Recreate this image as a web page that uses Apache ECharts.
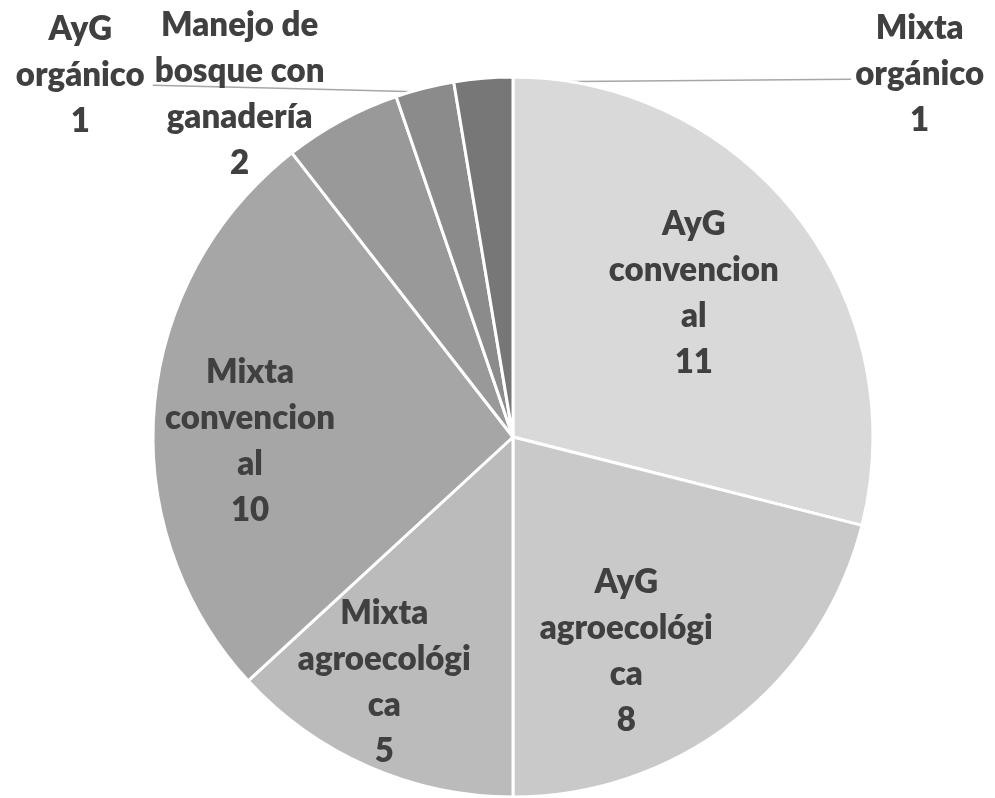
<!DOCTYPE html>
<html>
<head>
<meta charset="utf-8">
<script src="https://cdn.jsdelivr.net/npm/echarts@6/dist/echarts.min.js"></script>
<style>
    html, body { margin: 0; padding: 0; background: #fff; }
    #main { width: 995px; height: 798px; }
</style>
</head>
<body>
<div id="main"></div>
<script>
var categories = ['AyG convencional', 'AyG agroecológica', 'Mixta agroecológica', 'Mixta convencional',
    'Manejo de bosque con ganadería', 'AyG orgánico', 'Mixta orgánico'];
var values = [11, 8, 5, 10, 2, 1, 1];
// label text as wrapped in the original
var labelTexts = ['AyG\nconvencion\nal', 'AyG\nagroecológi\nca', 'Mixta\nagroecológi\nca', 'Mixta\nconvencion\nal',
    'Manejo de\nbosque con\nganadería', 'AyG\norgánico', 'Mixta\norgánico'];
var sliceColors = ['#d9d9d9', '#c9c9c9', '#bbbbbb', '#a6a6a6', '#999999', '#8b8b8b', '#777777'];

var cx = 513, cy = 437, R = 360;
// label placement: angle offset from slice middle (deg), distance from centre
var place = [[-0.6, 231], [10, 242], [4, 277], [-5.7, 263], [-10.2, 438], [-35.9, 564], [53, 545]];
var outside = [false, false, false, false, true, true, true];
var withLine = [false, false, false, false, false, true, true];

var total = values.reduce(function (a, b) { return a + b; }, 0);
function midAngle(i) {
    var before = 0;
    for (var k = 0; k < i; k++) before += values[k];
    return (before + values[i] / 2) / total * 360;
}
function polar(deg, r) {
    var a = deg * Math.PI / 180;
    return [cx + r * Math.sin(a), cy - r * Math.cos(a)];
}

var pieData = categories.map(function (name, i) {
    return {
        name: name,
        value: values[i],
        itemStyle: { color: sliceColors[i] },
        label: { position: outside[i] ? 'outside' : 'inside' },
        labelLine: { show: withLine[i] }
    };
});

var myChart = echarts.init(document.getElementById('main'));
var option = {
    animation: false,
    backgroundColor: '#ffffff',
    series: [
        {
            name: 'Sistemas',
            type: 'pie',
            center: [cx, cy],
            radius: R,
            startAngle: 90,
            clockwise: true,
            avoidLabelOverlap: false,
            data: pieData,
            itemStyle: {
                borderColor: '#ffffff',
                borderWidth: 3
            },
            label: {
                formatter: function (p) {
                    return labelTexts[p.dataIndex] + '\n' + p.value;
                },
                fontFamily: 'Lato',
                fontWeight: 800,
                fontSize: 33,
                lineHeight: 46,
                color: '#404040',
                align: 'center'
            },
            labelLine: {
                lineStyle: { color: '#a6a6a6', width: 1.5 }
            },
            labelLayout: function (params) {
                var i = params.dataIndex;
                var m = midAngle(i);
                var pos = polar(m + place[i][0], place[i][1]);
                var res = { x: pos[0], y: pos[1], align: 'center', verticalAlign: 'middle' };
                if (withLine[i]) {
                    var start = polar(m, R - 4);
                    var w = params.labelRect.width;
                    var end = pos[0] < cx ? [pos[0] + w / 2 + 8, pos[1] + 10] : [pos[0] - w / 2 - 4, pos[1] + 5];
                    res.labelLinePoints = [start, [(start[0] + end[0]) / 2, (start[1] + end[1]) / 2], end];
                }
                return res;
            }
        }
    ]
};
myChart.setOption(option);
</script>
</body>
</html>
